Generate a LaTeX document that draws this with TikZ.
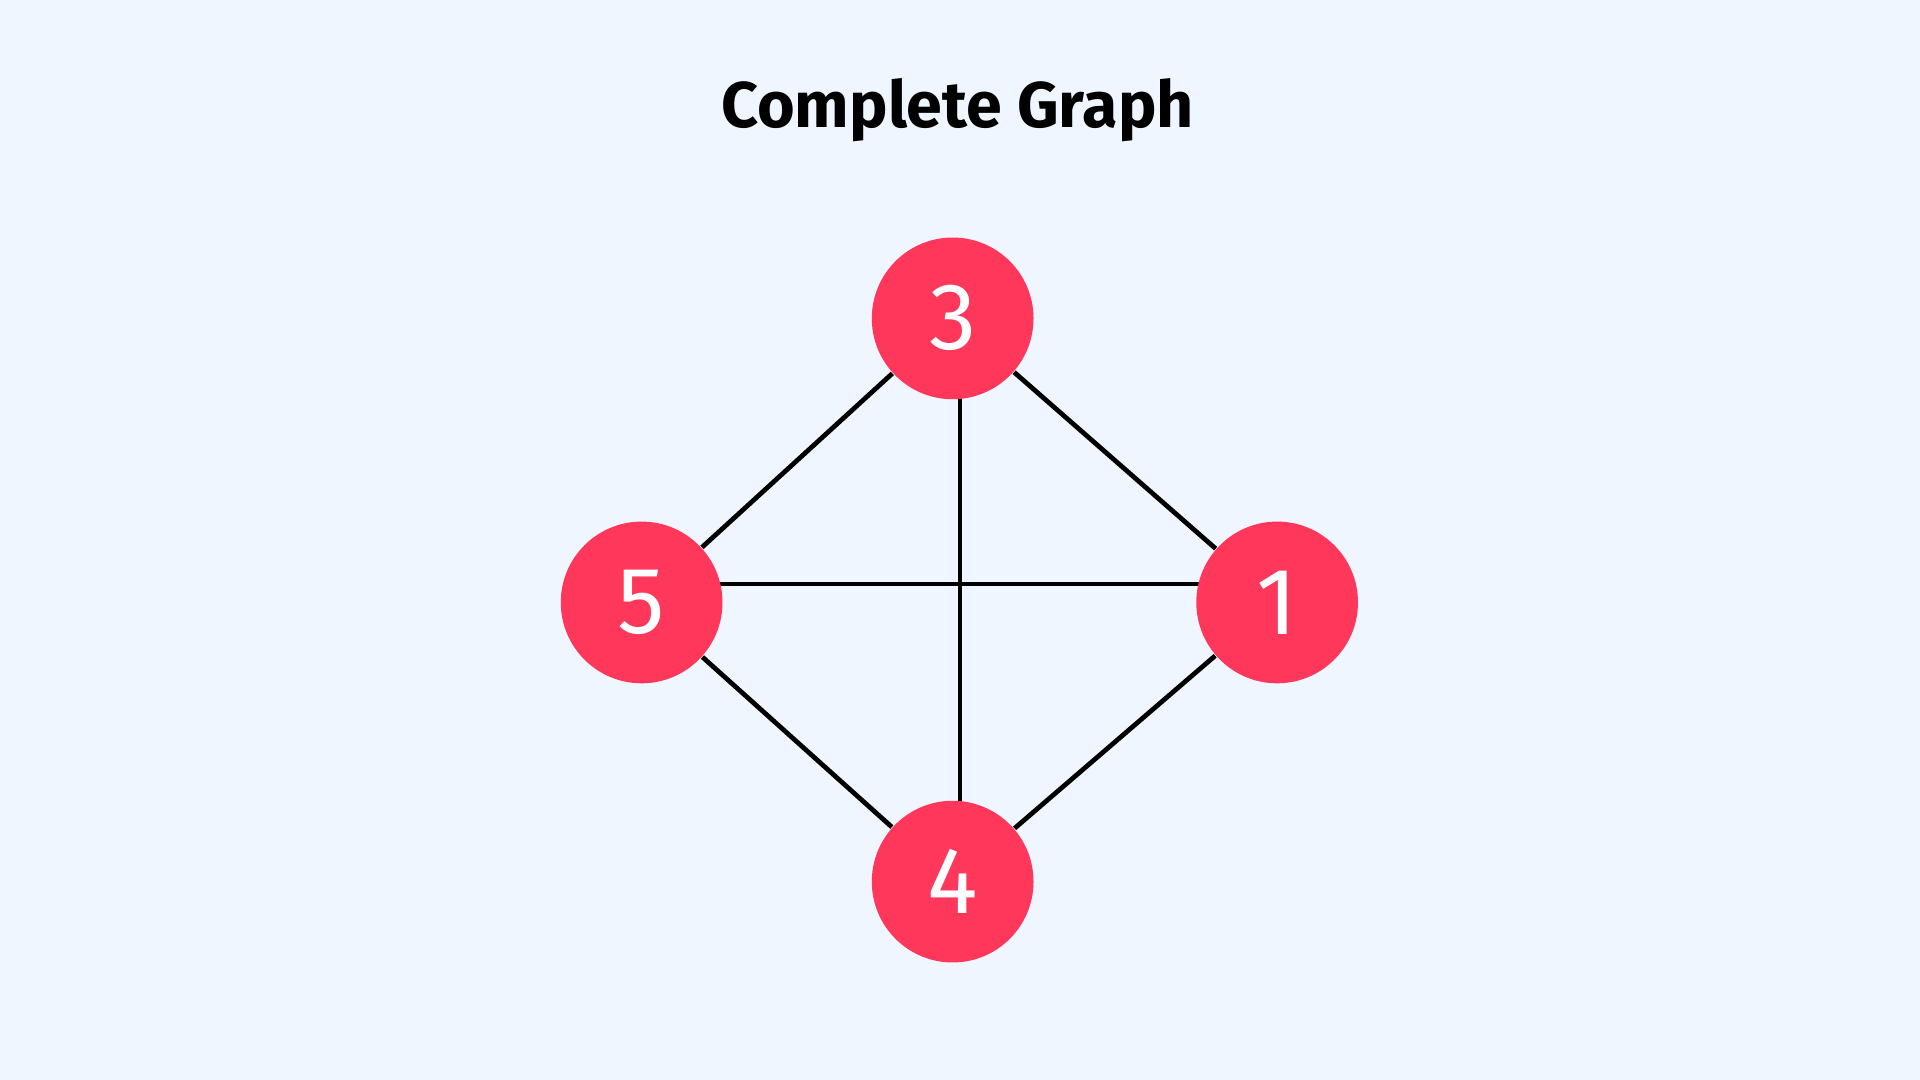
\documentclass[tikz,border=0pt]{standalone}
\usepackage{fontspec}
\setmainfont{Fira Sans}
\usepackage{tikz}
\usetikzlibrary{positioning, backgrounds}
\definecolor{bgblue}{HTML}{EFF6FF}
\definecolor{vertexred}{HTML}{FF375A}

\begin{document}
\begin{tikzpicture}[
    x=0.01cm, y=-0.01cm,
    vertex/.style={circle, fill=vertexred, minimum size=1.32cm, inner sep=0pt, text=white, font=\fontsize{22}{24}\selectfont},
    edge/.style={line width=1.1pt, black}
]
% Title
\node[font=\fontsize{15}{18}\selectfont\bfseries] (title) at (782,90) {Complete Graph};

% Vertices
\node[vertex] (n3) at (778,260) {3};
\node[vertex] (n5) at (524,492) {5};
\node[vertex] (n1) at (1043,492) {1};
\node[vertex] (n4) at (778,720) {4};

% Background and edges
\begin{pgfonlayer}{background}
\fill[bgblue] (0,0) rectangle (1568,882);
\draw[edge] (n3) -- (n5);
\draw[edge] (n3) -- (n1);
\draw[edge] (n5) -- (n4);
\draw[edge] (n1) -- (n4);
\draw[edge] ([xshift=0.06cm]n3.center) -- ([xshift=0.06cm]n4.center);
\draw[edge] ([yshift=0.15cm]n5.center) -- ([yshift=0.15cm]n1.center);
\end{pgfonlayer}
\end{tikzpicture}
\end{document}
